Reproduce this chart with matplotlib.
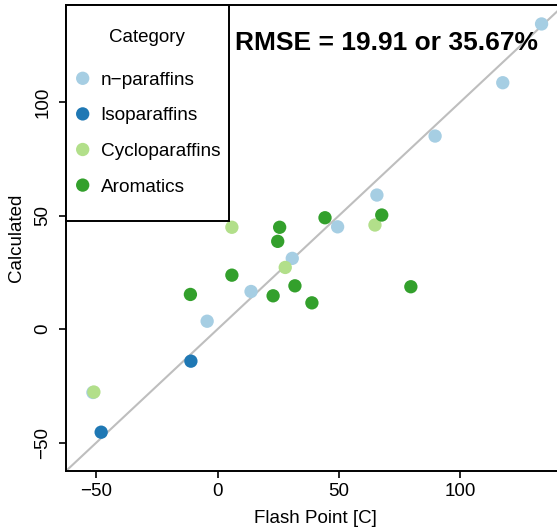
import matplotlib
matplotlib.use("Agg")
import matplotlib.pyplot as plt
from matplotlib.patches import Rectangle

plt.rcParams['font.family'] = ['Liberation Sans', 'DejaVu Sans']

categorias = ['n\u2212paraffins', 'Isoparaffins', 'Cycloparaffins', 'Aromatics']
colores = ['#A6CEE3', '#1F78B4', '#B2DF8A', '#33A02C']

npar_x = [-51.4, -4.3, 13.8, 30.8, 49.5, 65.7, 89.7, 117.6, 133.6]
npar_y = [-27.9, 3.5, 16.6, 31.2, 45.1, 59.1, 85.1, 108.6, 134.5]

iso_x = [-48.0, -11.0]
iso_y = [-45.4, -14.1]

ciclo_x = [-51.0, 5.9, 27.9, 64.9]
ciclo_y = [-27.7, 44.9, 27.2, 45.9]

arom_x = [-11.2, 5.9, 22.9, 24.8, 25.6, 31.9, 38.9, 44.3, 67.7, 79.7]
arom_y = [15.3, 23.8, 14.7, 38.7, 44.9, 19.1, 11.6, 49.1, 50.3, 18.7]

series_x = [npar_x, iso_x, ciclo_x, arom_x]
series_y = [npar_y, iso_y, ciclo_y, arom_y]

texto_rmse = 'RMSE = 19.91 or 35.67%'
limites = (-62.5, 142.85)

fig = plt.figure(figsize=(5.57, 5.29), dpi=100)
# el eje se sale un poco por la derecha, igual que en la imagen original
ax = fig.add_axes([66/557, 1 - 471/529, 498/557, 466/529])

ax.axline((0, 0), slope=1, color='#BEBEBE', lw=1.5, zorder=1)
for xs, ys, col in zip(series_x, series_y, colores):
    ax.scatter(xs, ys, s=92, color=col, edgecolors='none', zorder=2)

ax.set_xlim(limites)
ax.set_ylim(limites)
ax.set_xticks([-50, 0, 50, 100])
ax.set_yticks([-50, 0, 50, 100])
ax.tick_params(axis='both', labelsize=13.5, length=5, width=1.2, color='black')
ax.tick_params(axis='x', pad=4)
ax.tick_params(axis='y', pad=5.5)
for lab in ax.get_yticklabels():
    lab.set_rotation(90)
    lab.set_va('center')
for sp in ax.spines.values():
    sp.set_linewidth(1.4)

ax.set_xlabel('Flash Point [C]', fontsize=13.5, labelpad=7)
ax.set_ylabel('Calculated', fontsize=13.5, labelpad=7)


def frac(px, py):
    # pasa pixeles de la imagen a coordenadas del eje
    return (px - 66) / 498, 1 - (py - 5) / 466


ax.text(*frac(235, 50), texto_rmse, transform=ax.transAxes, fontsize=19,
        fontweight='bold', ha='left', va='baseline')

# leyenda dibujada a mano para copiar el estilo de R
x0, y0 = frac(66.7, 220.7)
ax.add_patch(Rectangle((0, y0), frac(229.3, 0)[0], 1 - y0, transform=ax.transAxes,
                       facecolor='white', edgecolor='black', lw=1.4,
                       clip_on=False, zorder=5))
ax.text(*frac(147.3, 41.7), 'Category', transform=ax.transAxes, fontsize=13.5,
        ha='center', va='baseline', zorder=6)
for i, (cat, col) in enumerate(zip(categorias, colores)):
    py = 78.3 + 35.6 * i
    ax.scatter(*frac(82.7, py), s=92, color=col, edgecolors='none',
               transform=ax.transAxes, clip_on=False, zorder=6)
    ax.text(*frac(100.7, py + 6.5), cat, transform=ax.transAxes, fontsize=13.7,
            ha='left', va='baseline', zorder=6)

fig.savefig('out.png', dpi=100)
